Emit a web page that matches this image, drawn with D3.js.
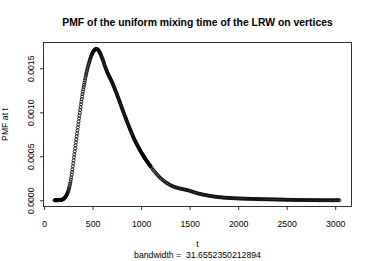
<!DOCTYPE html>
<html>
<head>
<meta charset="utf-8">
<script src="https://cdn.jsdelivr.net/npm/d3@7"></script>
<style>
body { margin: 0; background: #fff; }
text { font-family: "Liberation Sans", Arial, Helvetica, sans-serif; fill: #000; }
</style>
</head>
<body>
<div id="chart"></div>
<script>
// Data
var titleText = "PMF of the uniform mixing time of the LRW on vertices";
var xLabel = "t";
var yLabel = "PMF at t";
var subLabel = "bandwidth =  31.6552350212894";

var xTicks = [0, 500, 1000, 1500, 2000, 2500, 3000];
var yTicks = [0, 0.0005, 0.0010, 0.0015];

// grid of t where the density was evaluated
var tGrid = [
    108, 112, 116, 120, 124, 128, 132, 136, 140, 144, 148, 152,
    156, 160, 164, 168, 172, 176, 180, 184, 188, 192, 196, 200,
    204, 208, 212, 216, 220, 224, 228, 232, 236, 240, 244, 248,
    252, 256, 260, 264, 268, 272, 276, 280, 284, 288, 292, 296,
    300, 304, 308, 312, 316, 320, 324, 328, 332, 336, 340, 344,
    348, 352, 356, 360, 364, 368, 372, 376, 380, 384, 388, 392,
    396, 400, 404, 408, 412, 416, 420, 424, 428, 432, 436, 440,
    444, 448, 452, 456, 460, 464, 468, 472, 476, 480, 484, 488,
    492, 496, 500, 504, 508, 512, 516, 520, 524, 528, 532, 536,
    540, 544, 548, 552, 556, 560, 564, 568, 572, 576, 580, 584,
    588, 592, 596, 600, 604, 608, 612, 616, 620, 624, 628, 632,
    636, 640, 644, 648, 652, 656, 660, 664, 668, 672, 676, 680,
    684, 688, 692, 696, 700, 704, 708, 712, 716, 720, 724, 728,
    732, 736, 740, 744, 748, 752, 756, 760, 764, 768, 772, 776,
    780, 784, 788, 792, 796, 800, 804, 808, 812, 816, 820, 824,
    828, 832, 836, 840, 844, 848, 852, 856, 860, 864, 868, 872,
    876, 880, 884, 888, 892, 896, 900, 904, 908, 912, 916, 920,
    924, 928, 932, 936, 940, 944, 948, 952, 956, 960, 964, 968,
    972, 976, 980, 984, 988, 992, 996, 1000, 1004, 1008, 1012, 1016,
    1020, 1024, 1028, 1032, 1036, 1040, 1044, 1048, 1052, 1056, 1060, 1064,
    1068, 1072, 1076, 1080, 1084, 1088, 1092, 1096, 1100,
    1112, 1124, 1136, 1148, 1160, 1172, 1184, 1196, 1208, 1220, 1232, 1244,
    1256, 1268, 1280, 1292, 1304, 1316, 1328, 1340, 1352, 1364, 1376, 1388,
    1400, 1412, 1424, 1436, 1448, 1460, 1472, 1484, 1496, 1508, 1520, 1532,
    1544, 1556, 1568, 1580, 1592, 1604, 1616, 1628, 1640, 1652, 1664, 1676,
    1688, 1700, 1712, 1724, 1736, 1748, 1760, 1772, 1784, 1796, 1808, 1820,
    1832, 1844, 1856, 1868, 1880, 1892, 1904, 1916, 1928, 1940, 1952, 1964,
    1976, 1988, 2000, 2012, 2024, 2036, 2048, 2060, 2072, 2084, 2096, 2108,
    2120, 2132, 2144, 2156, 2168, 2180, 2192, 2204, 2216, 2228, 2240, 2252,
    2264, 2276, 2288, 2300, 2312, 2324, 2336, 2348, 2360, 2372, 2384, 2396,
    2408, 2420, 2432, 2444, 2456, 2468, 2480, 2492, 2504, 2516, 2528, 2540,
    2552, 2564, 2576, 2588, 2600, 2612, 2624, 2636, 2648, 2660, 2672, 2684,
    2696, 2708, 2720, 2732, 2744, 2756, 2768, 2780, 2792, 2804, 2816, 2828,
    2840, 2852, 2864, 2876, 2888, 2900, 2912, 2924, 2936, 2948, 2960, 2972,
    2984, 2996, 3008, 3020, 3032, 3044
];

// PMF at each t, in units of 1e-6
var pmfMicro = [
    1, 1, 1, 1, 1, 1, 2, 2, 2, 2, 2, 3,
    3, 3, 3, 4, 4, 5, 6, 7, 9, 11, 13, 16,
    19, 23, 28, 33, 38, 45, 52, 60, 68, 78, 90, 102,
    116, 132, 148, 168, 188, 210, 235, 260, 290, 320, 352, 386,
    420, 454, 488, 522, 556, 590, 624, 658, 692, 726, 760, 794,
    828, 862, 896, 930, 962, 994, 1026, 1058, 1090, 1120, 1150, 1179,
    1207, 1235, 1261, 1287, 1312, 1336, 1360, 1382, 1404, 1425, 1445, 1465,
    1483, 1501, 1518, 1534, 1550, 1565, 1580, 1595, 1609, 1622, 1634, 1645,
    1656, 1665, 1675, 1683, 1691, 1698, 1704, 1709, 1712, 1715, 1718, 1719,
    1720, 1719, 1717, 1714, 1710, 1705, 1699, 1692, 1684, 1675, 1666, 1656,
    1645, 1634, 1623, 1611, 1599, 1586, 1574, 1561, 1548, 1535, 1522, 1510,
    1498, 1486, 1475, 1464, 1453, 1443, 1433, 1424, 1415, 1406, 1397, 1388,
    1379, 1370, 1361, 1352, 1343, 1333, 1323, 1312, 1301, 1290, 1279, 1268,
    1256, 1245, 1234, 1223, 1212, 1200, 1188, 1176, 1164, 1152, 1140, 1128,
    1116, 1104, 1092, 1080, 1068, 1056, 1044, 1032, 1020, 1008, 996, 984,
    972, 960, 949, 937, 925, 914, 902, 891, 880, 869, 858, 846,
    835, 824, 813, 802, 792, 781, 770, 760, 749, 739, 728, 718,
    708, 699, 689, 680, 671, 662, 653, 645, 636, 628, 620, 611,
    603, 595, 587, 579, 571, 563, 556, 548, 541, 534, 526, 519,
    512, 505, 498, 491, 484, 477, 470, 463, 457, 450, 443, 437,
    430, 424, 417, 411, 405, 399, 393, 387, 381,
    364, 346, 329, 313, 298, 284, 270, 256, 244, 233, 222, 212,
    202, 194, 186, 178, 170, 164, 158, 153, 148, 144, 141, 137,
    134, 131, 128, 125, 122, 119, 116, 113, 109, 105, 101, 96,
    92, 88, 84, 80, 76, 73, 70, 67, 64, 62, 59, 57,
    54, 52, 50, 48, 45, 43, 41, 40, 38, 36, 35, 34,
    33, 31, 30, 29, 28, 27, 27, 26, 25, 24, 24, 23,
    22, 21, 21, 20, 20, 20, 19, 19, 18, 18, 17, 17,
    16, 16, 16, 15, 15, 15, 14, 14, 14, 13, 13, 12,
    12, 12, 11, 11, 11, 11, 10, 10, 10, 10, 9, 9,
    9, 8, 8, 8, 7, 7, 7, 6, 6, 6, 5, 5,
    5, 4, 4, 4, 4, 4, 3, 3, 3, 3, 3, 3,
    3, 3, 2, 2, 2, 2, 2, 2, 2, 2, 2, 1,
    1, 1, 1, 1, 1, 1, 1, 1, 1, 1, 1, 1,
    1, 1, 1, 1, 1, 1
];

function drawPlot() {
    var width = 374;
    var height = 261;

    var svg = d3.select("#chart")
        .append("svg")
        .attr("width", width)
        .attr("height", height);

    var points = tGrid.map(function (t, i) {
        return { t: t, pmf: pmfMicro[i] * 1e-6 };
    });

    // plot region, R style (4% padding on both axes)
    var x = d3.scaleLinear().domain([-6, 3168]).range([43.5, 351.5]);
    var y = d3.scaleLinear().domain([-0.0000705, 0.001793]).range([206.5, 42.5]);

    // x axis
    var x_axis = svg.append("g")
        .attr("transform", "translate(0," + y.range()[0] + ")")
        .call(d3.axisBottom(x).tickValues(xTicks).tickSize(3.5).tickSizeOuter(0).tickFormat(d3.format("d")));
    x_axis.select(".domain").remove();
    x_axis.selectAll("line").attr("stroke", "#000").attr("stroke-width", 0.8);
    x_axis.selectAll("text")
        .attr("y", 20)
        .attr("dy", 0)
        .style("font-size", "8.7px")
        .style("font-family", null);

    // y axis, labels turned like R does
    var y_axis = svg.append("g")
        .attr("transform", "translate(" + x.range()[0] + ",0)")
        .call(d3.axisLeft(y).tickValues(yTicks).tickSize(3.5).tickSizeOuter(0).tickFormat(d3.format(".4f")));
    y_axis.select(".domain").remove();
    y_axis.selectAll("line").attr("stroke", "#000").attr("stroke-width", 0.8);
    y_axis.selectAll("text")
        .attr("x", 0)
        .attr("dy", 0)
        .attr("text-anchor", "middle")
        .attr("transform", "translate(-9.5,0) rotate(-90)")
        .style("font-size", "8.7px")
        .style("font-family", null);

    // box
    svg.append("rect")
        .attr("x", x.range()[0])
        .attr("y", y.range()[1])
        .attr("width", x.range()[1] - x.range()[0])
        .attr("height", y.range()[0] - y.range()[1])
        .attr("fill", "none")
        .attr("stroke", "#000")
        .attr("stroke-width", 0.8);

    // open circle markers
    svg.selectAll(".marker")
        .data(points)
        .enter()
        .append("circle")
        .classed("marker", true)
        .attr("cx", function (d) { return x(d.t); })
        .attr("cy", function (d) { return y(d.pmf); })
        .attr("r", 1.5)
        .attr("fill", "none")
        .attr("stroke", "#000")
        .attr("stroke-width", 0.85);

    var midX = (x.range()[0] + x.range()[1]) / 2;

    svg.append("text")
        .attr("x", midX)
        .attr("y", 25.5)
        .attr("text-anchor", "middle")
        .style("font-size", "10.4px")
        .style("font-weight", "bold")
        .text(titleText);

    svg.append("text")
        .attr("x", midX)
        .attr("y", 247)
        .attr("text-anchor", "middle")
        .style("font-size", "8.7px")
        .text(xLabel);

    svg.append("text")
        .attr("x", midX)
        .attr("y", 258.3)
        .attr("text-anchor", "middle")
        .style("font-size", "8.7px")
        .style("white-space", "pre")
        .text(subLabel);

    svg.append("text")
        .attr("transform", "translate(7.5," + ((y.range()[0] + y.range()[1]) / 2) + ") rotate(-90)")
        .attr("text-anchor", "middle")
        .style("font-size", "8.7px")
        .text(yLabel);
}

drawPlot();
</script>
</body>
</html>
